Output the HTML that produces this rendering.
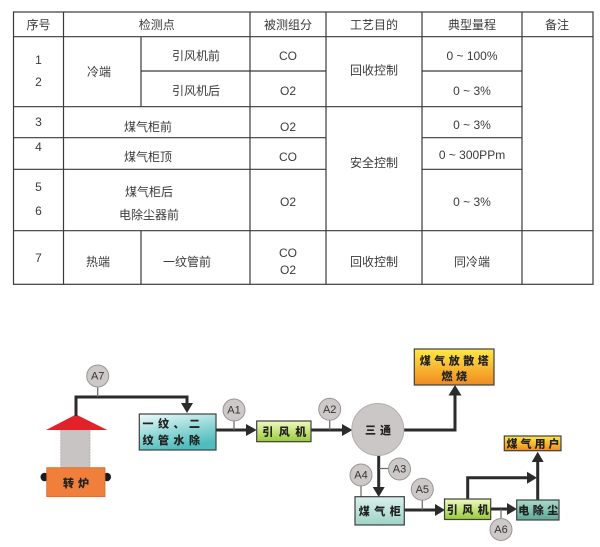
<!DOCTYPE html>
<html><head><meta charset="utf-8">
<style>
html,body{margin:0;padding:0;background:#fff;}
svg{display:block;}
.t{font-family:"Liberation Sans","Noto Sans CJK SC",sans-serif;font-size:12px;fill:#3a3a3a;text-anchor:middle;dominant-baseline:central;}
.b{font-family:"Noto Sans CJK SC","WenQuanYi Zen Hei",sans-serif;font-size:11px;font-weight:900;fill:#222;dominant-baseline:central;}
.a{font-family:"Liberation Sans",sans-serif;font-size:11px;fill:#333;text-anchor:middle;dominant-baseline:central;}
</style></head>
<body>
<svg width="600" height="547" viewBox="0 0 600 547" xmlns="http://www.w3.org/2000/svg">
<defs>
<linearGradient id="gTeal" x1="0" y1="0" x2="0.4" y2="1"><stop offset="0" stop-color="#eefafa"/><stop offset="1" stop-color="#4dbdbd"/></linearGradient>
<linearGradient id="gTank" x1="0" y1="0" x2="0" y2="1"><stop offset="0" stop-color="#d9f0eb"/><stop offset="1" stop-color="#9fd3c6"/></linearGradient>
<linearGradient id="gDust" x1="0" y1="0" x2="0" y2="1"><stop offset="0" stop-color="#a9d9ca"/><stop offset="1" stop-color="#5ea897"/></linearGradient>
<linearGradient id="gGreen" x1="0" y1="0" x2="0" y2="1"><stop offset="0" stop-color="#f0f9c0"/><stop offset="1" stop-color="#98cb38"/></linearGradient>
<linearGradient id="gYel" x1="0" y1="0" x2="0" y2="1"><stop offset="0" stop-color="#ffe845"/><stop offset="1" stop-color="#f08a22"/></linearGradient>
</defs>

<!-- TABLE -->
<g stroke="#3a3a3a" stroke-width="1.2" fill="none">
<rect x="13.5" y="12" width="579.5" height="272.3"/>
<line x1="13.5" y1="36.7" x2="593" y2="36.7"/>
<line x1="141" y1="71" x2="326" y2="71"/>
<line x1="422" y1="71" x2="522" y2="71"/>
<line x1="13.5" y1="106.7" x2="522" y2="106.7"/>
<line x1="13.5" y1="137.7" x2="326" y2="137.7"/>
<line x1="422" y1="137.7" x2="522" y2="137.7"/>
<line x1="13.5" y1="169.3" x2="326" y2="169.3"/>
<line x1="422" y1="169.3" x2="522" y2="169.3"/>
<line x1="13.5" y1="230.7" x2="593" y2="230.7"/>
<line x1="63.5" y1="12" x2="63.5" y2="284.3"/>
<line x1="141" y1="36.7" x2="141" y2="106.7"/>
<line x1="141" y1="230.7" x2="141" y2="284.3"/>
<line x1="250" y1="12" x2="250" y2="284.3"/>
<line x1="326" y1="12" x2="326" y2="284.3"/>
<line x1="422" y1="12" x2="422" y2="284.3"/>
<line x1="522" y1="12" x2="522" y2="284.3"/>
</g>
<g class="t">
<text class="t" x="38.5" y="25">序号</text>
<text class="t" x="156.7" y="25">检测点</text>
<text class="t" x="288" y="25">被测组分</text>
<text class="t" x="374" y="25">工艺目的</text>
<text class="t" x="472" y="25">典型量程</text>
<text class="t" x="557" y="25">备注</text>

<text class="t" x="38.5" y="60">1</text>
<text class="t" x="38.5" y="82">2</text>
<text class="t" x="99" y="72">冷端</text>
<text class="t" x="196" y="56">引风机前</text>
<text class="t" x="196" y="91">引风机后</text>
<text class="t" x="288" y="56">CO</text>
<text class="t" x="288" y="91">O2</text>
<text class="t" x="374" y="70.5">回收控制</text>
<text class="t" x="472" y="56">0 ~ 100%</text>
<text class="t" x="472" y="91">0 ~ 3%</text>

<text class="t" x="38.5" y="122">3</text>
<text class="t" x="148" y="127">煤气柜前</text>
<text class="t" x="288" y="127">O2</text>
<text class="t" x="472" y="125">0 ~ 3%</text>

<text class="t" x="38.5" y="147">4</text>
<text class="t" x="148" y="157">煤气柜顶</text>
<text class="t" x="288" y="157">CO</text>
<text class="t" x="374" y="163">安全控制</text>
<text class="t" x="472" y="155">0 ~ 300PPm</text>

<text class="t" x="38.5" y="187">5</text>
<text class="t" x="38.5" y="211">6</text>
<text class="t" x="149" y="192">煤气柜后</text>
<text class="t" x="149" y="215">电除尘器前</text>
<text class="t" x="288" y="202">O2</text>
<text class="t" x="472" y="202">0 ~ 3%</text>

<text class="t" x="38.5" y="258">7</text>
<text class="t" x="98" y="262">热端</text>
<text class="t" x="187" y="262">一纹管前</text>
<text class="t" x="288" y="253">CO</text>
<text class="t" x="288" y="270">O2</text>
<text class="t" x="374" y="262">回收控制</text>
<text class="t" x="472" y="262">同冷端</text>
</g>

<!-- DIAGRAM -->
<ellipse cx="44.5" cy="477" rx="4" ry="4.3" fill="#1a1a1a"/>
<ellipse cx="107" cy="477" rx="4" ry="4.3" fill="#1a1a1a"/>
<rect x="60.7" y="430" width="29.3" height="38" fill="#c9c4c4" stroke="#b0aaaa" stroke-width="0.8" stroke-dasharray="2,1"/>
<polygon points="76,414.5 46,430 107.3,430" fill="#e2222b"/>
<rect x="46.7" y="467.7" width="58.3" height="29" fill="#ef7f3a" stroke="#d9682a" stroke-width="0.8"/>
<text class="b" x="78" y="483" text-anchor="middle" letter-spacing="4">转炉</text>

<g stroke="#2b2b2b" stroke-width="3" fill="none" stroke-linejoin="miter">
<path d="M76,416 V397 H187 V404"/>
<path d="M216,430 H247"/>
<path d="M311,430 H343"/>
<path d="M403,430 H455 V395"/>
<path d="M378.7,456 V488"/>
<path d="M404.3,510 H436"/>
<path d="M490.7,509 H508"/>
<path d="M467.7,499 V477.7 H528"/>
<path d="M537.7,500 V461"/>
</g>
<g fill="#2b2b2b">
<polygon points="181,403 193,403 187,413"/>
<polygon points="246,424 256.7,430 246,436"/>
<polygon points="342,424 352.5,430 342,436"/>
<polygon points="448.5,395.5 461.5,395.5 455,385"/>
<polygon points="372.7,487 384.7,487 378.7,497"/>
<polygon points="435,504 445,510 435,516"/>
<polygon points="507,503 517,509 507,515"/>
<polygon points="527,471.7 537,477.7 527,483.7"/>
<polygon points="531.7,462 543.7,462 537.7,451.7"/>
</g>

<g stroke="#6a6666" stroke-width="1.2">
<line x1="97.7" y1="387" x2="97.7" y2="397"/>
<line x1="234" y1="421" x2="234" y2="430"/>
<line x1="329.7" y1="420" x2="329.7" y2="430"/>
<line x1="379" y1="468.5" x2="389" y2="468.5"/>
<line x1="361" y1="486" x2="361" y2="497"/>
<line x1="422.3" y1="500" x2="422.3" y2="510"/>
<line x1="501" y1="509" x2="501" y2="518.5"/>
</g>

<g fill="#cdc9c9" stroke="#9a9696" stroke-width="1">
<circle cx="97.7" cy="376" r="11"/>
<circle cx="234" cy="410" r="11"/>
<circle cx="329.7" cy="409.3" r="11"/>
<circle cx="399.5" cy="469" r="11"/>
<circle cx="361" cy="475" r="11"/>
<circle cx="422.3" cy="489.3" r="11"/>
<circle cx="501" cy="529.5" r="11"/>
</g>
<text class="a" x="97.7" y="376.5">A7</text>
<text class="a" x="234" y="410.5">A1</text>
<text class="a" x="329.7" y="409.8">A2</text>
<text class="a" x="399.5" y="469.5">A3</text>
<text class="a" x="361" y="475.5">A4</text>
<text class="a" x="422.3" y="489.8">A5</text>
<text class="a" x="501" y="530">A6</text>

<rect x="139.3" y="414" width="76.7" height="36" fill="url(#gTeal)" stroke="#3f3f3f" stroke-width="1.2"/>
<text class="b" x="142.5" y="423.5" letter-spacing="4.5">一纹、二</text>
<text class="b" x="142.5" y="440" letter-spacing="4.5">纹管水除</text>

<rect x="256.7" y="421" width="54.3" height="20.7" fill="url(#gGreen)" stroke="#3f3f3f" stroke-width="1.2"/>
<text class="b" x="287" y="431.5" text-anchor="middle" letter-spacing="5.5">引风机</text>

<circle cx="377.8" cy="429.5" r="26" fill="#cbc7c7" stroke="#b3afaf" stroke-width="1"/>
<text class="b" x="380" y="430" text-anchor="middle" letter-spacing="4">三通</text>

<rect x="414.3" y="349" width="79.7" height="36" fill="url(#gYel)" stroke="#3f3f3f" stroke-width="1.2"/>
<text class="b" x="456" y="360.7" text-anchor="middle" letter-spacing="3.5">煤气放散塔</text>
<text class="b" x="456" y="376" text-anchor="middle" letter-spacing="3.5">燃烧</text>

<rect x="355" y="496.7" width="49.3" height="28.3" fill="url(#gTank)" stroke="#3f3f3f" stroke-width="1.2"/>
<text class="b" x="382" y="511" text-anchor="middle" letter-spacing="4.5">煤气柜</text>

<rect x="444.5" y="499" width="46.2" height="20.5" fill="url(#gGreen)" stroke="#3f3f3f" stroke-width="1.2"/>
<text class="b" x="470" y="509.5" text-anchor="middle" letter-spacing="4.5">引风机</text>

<rect x="516.7" y="500" width="42.3" height="20" fill="url(#gDust)" stroke="#3f3f3f" stroke-width="1.2"/>
<text class="b" x="540" y="510" text-anchor="middle" letter-spacing="3.5">电除尘</text>

<rect x="504.3" y="436" width="56.7" height="14.7" fill="url(#gYel)" stroke="#3f3f3f" stroke-width="1.2"/>
<text class="b" x="534.5" y="443.5" text-anchor="middle" letter-spacing="3">煤气用户</text>
</svg>
</body></html>
